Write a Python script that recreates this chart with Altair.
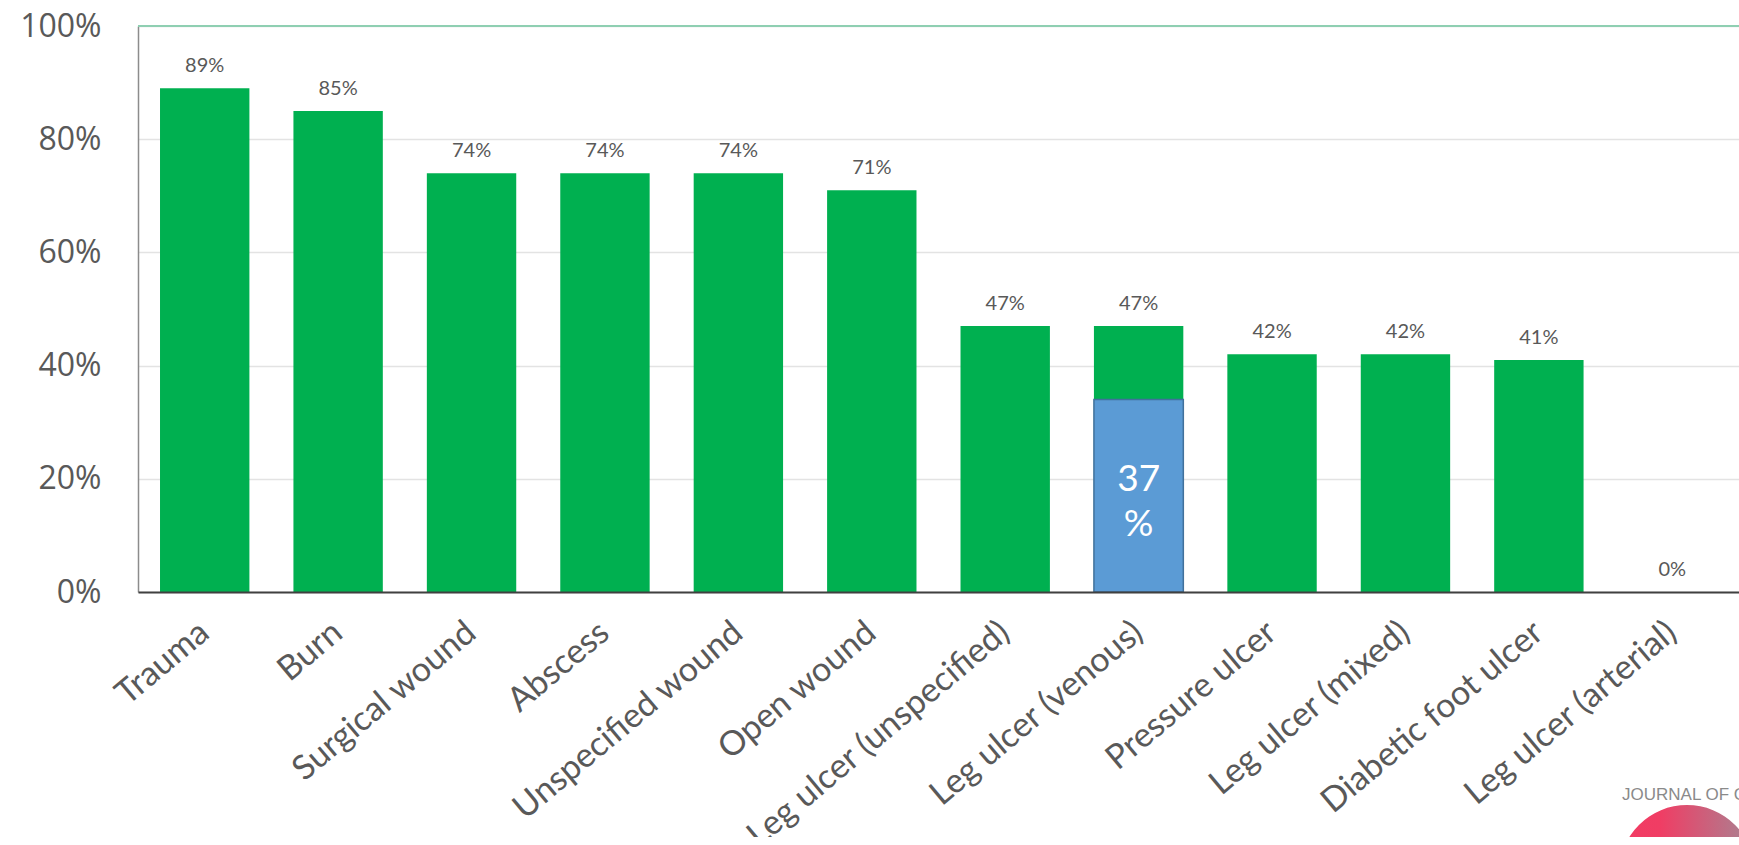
import altair as alt
import pandas as pd

# ---- data ----
categories = [
    "Trauma", "Burn", "Surgical wound", "Abscess", "Unspecified wound",
    "Open wound", "Leg ulcer (unspecified)", "Leg ulcer (venous)",
    "Pressure ulcer", "Leg ulcer (mixed)", "Diabetic foot ulcer",
    "Leg ulcer (arterial)",
]
values = [89, 85, 74, 74, 74, 71, 47, 47, 42, 42, 41, 0]
value_labels = ["89%", "85%", "74%", "74%", "74%", "71%", "47%", "47%",
                "42%", "42%", "41%", "0%"]

highlight_category = ["Leg ulcer (venous)"]
highlight_value = [34]
highlight_label = ["37\n%"]

y_ticks = [0, 20, 40, 60, 80, 100]
top_line = [100]
watermark_text = "JOURNAL OF C"

df = pd.DataFrame({"category": categories, "value": values, "label": value_labels})
hdf = pd.DataFrame({"category": highlight_category, "value": highlight_value,
                    "label": highlight_label})
tdf = pd.DataFrame({"v": top_line})
one = pd.DataFrame({"a": [0]})

x_enc = alt.X(
    "category:N", sort=categories,
    scale=alt.Scale(paddingInner=0.33, paddingOuter=0.165),
    axis=alt.Axis(
        title=None, labelAngle=-40, labelAlign="right", labelBaseline="middle",
        labelFont="Lato", labelFontSize=34, labelColor="#595959",
        labelPadding=36, ticks=False, domainColor="#404040", domainWidth=2,
        zindex=1, labelOverlap=False, labelLimit=1000,
    ),
)
y_scale = alt.Scale(domain=[0, 100], nice=False)
y_enc = alt.Y(
    "value:Q", scale=y_scale,
    axis=alt.Axis(
        title=None, values=y_ticks, labelExpr="datum.value + '%'",
        labelFont="Open Sans", labelFontSize=32, labelColor="#595959",
        labelPadding=37, ticks=False, domainColor="#8c8c8c", domainWidth=1.5,
        gridColor="#e3e3e3", gridWidth=1.5,
    ),
)

bars = alt.Chart(df).mark_bar(color="#00B050").encode(x=x_enc, y=y_enc)

top_rule = alt.Chart(tdf).mark_rule(color="#8FCFB2", strokeWidth=2).encode(
    y=alt.Y("v:Q", scale=y_scale)
)

hbar = alt.Chart(hdf).mark_bar(
    color="#5B9BD5", stroke="#41719C", strokeWidth=1.5
).encode(
    x=alt.X("category:N", sort=categories),
    y=alt.Y("value:Q", scale=y_scale),
)

hlabel = alt.Chart(hdf).transform_calculate(
    mid="datum.value / 2"
).mark_text(
    color="white", font="Lato", fontSize=37, lineHeight=45,
    baseline="middle", align="center", lineBreak="\n", dy=-16,
).encode(
    x=alt.X("category:N", sort=categories),
    y=alt.Y("mid:Q", scale=y_scale),
    text="label:N",
)

vlabels = alt.Chart(df).mark_text(
    dy=-22, font="Lato", fontSize=20, color="#595959", baseline="middle"
).encode(
    x=alt.X("category:N", sort=categories),
    y=alt.Y("value:Q", scale=y_scale),
    text="label:N",
)

ring = alt.Chart(one).mark_arc(
    radius=68, radius2=33, theta=0, theta2=6.2832,
    fill=alt.LinearGradient(
        gradient="linear",
        stops=[alt.GradientStop(color="#F23B63", offset=0.0),
               alt.GradientStop(color="#F03D64", offset=0.3),
               alt.GradientStop(color="#A68594", offset=1.0)],
        x1=0, x2=1, y1=0, y2=0,
    ),
).encode(x=alt.value(1549), y=alt.value(847))

wm = alt.Chart(one).mark_text(
    align="left", baseline="middle", font="Liberation Sans", fontSize=17,
    color="#8a8a8a",
).encode(x=alt.value(1484), y=alt.value(769), text=alt.value(watermark_text))

chart = alt.layer(bars, hbar, top_rule, hlabel, vlabels, ring, wm).properties(
    width=1601, height=566,
    autosize=alt.AutoSizeParams(type="none"),
    padding={"left": 138, "top": 26, "right": 0, "bottom": 245},
    background="white",
).configure_view(stroke=None)

chart.save("out.html", embed_options={"renderer": "svg", "actions": False})
